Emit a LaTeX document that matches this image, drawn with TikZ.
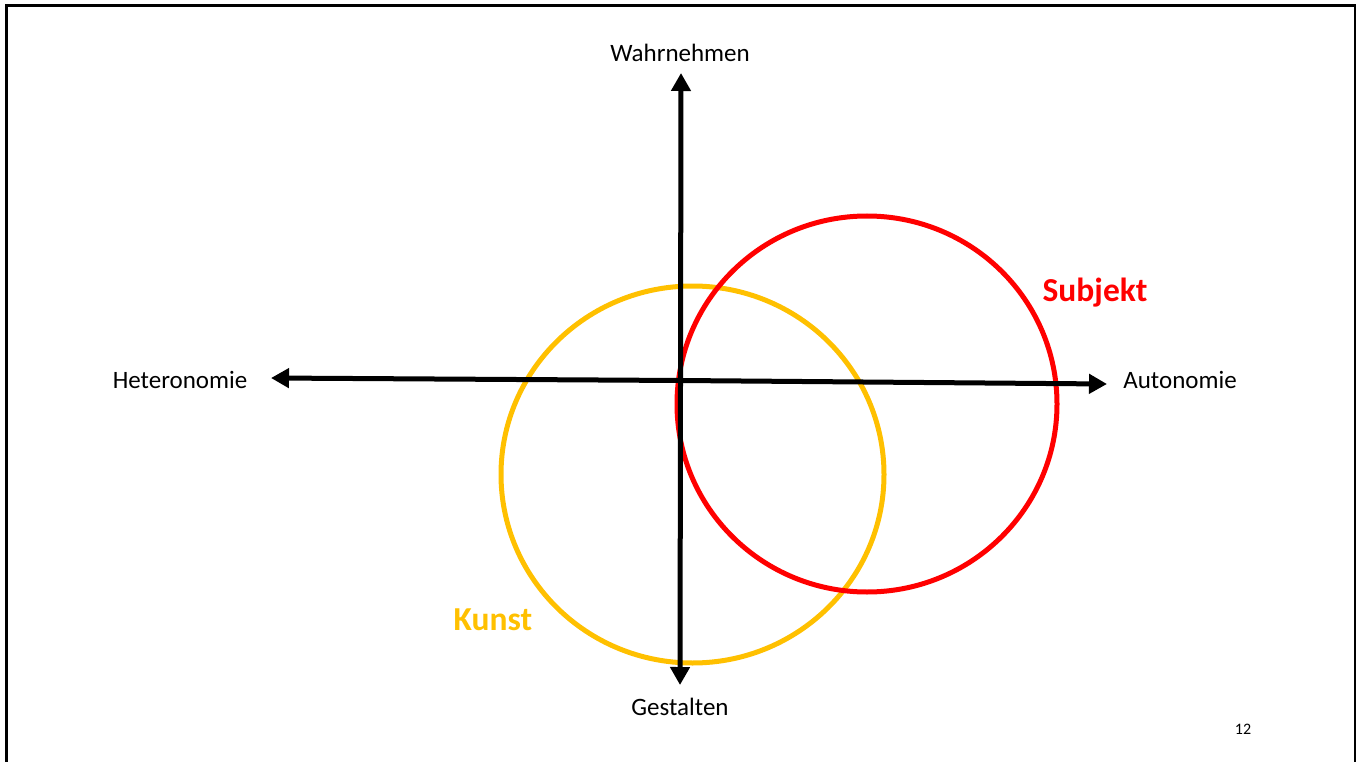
\documentclass[tikz,border=0pt]{standalone}
\usepackage{fontspec}
\setmainfont{Carlito}
\usetikzlibrary{arrows.meta}
\definecolor{kunstc}{HTML}{FFC000}
\definecolor{subjc}{HTML}{FF0000}
\tikzset{
  axis/.style={line width=5pt, -{Triangle[length=18pt,width=19pt]}},
  lbl/.style={font=\fontsize{25}{30}\selectfont, inner sep=0pt},
  big/.style={font=\fontsize{33.5}{40}\selectfont\bfseries, inner sep=0pt},
  ring/.style={line width=5pt}
}
\begin{document}
\begin{tikzpicture}[x=1pt,y=-1pt]
\useasboundingbox (0,0) rectangle (1362,762);
\draw[line width=2.5pt] (6.5,764) -- (6.5,5.5) -- (1355,5.5) -- (1355,764);
% circles
\draw[ring, kunstc] (692.5,474.5) ellipse (191.5 and 188.5);
\draw[ring, subjc] (867,404) ellipse (190 and 188);
% axes
\coordinate (vtop) at (681,73);
\coordinate (vbot) at (680,685);
\coordinate (hl) at (271,378);
\coordinate (hr) at (1107,384);
\coordinate (c) at (680.5,380.5);
\draw[axis] (c) -- (vtop);
\draw[axis] (c) -- (vbot);
\draw[axis] (c) -- (hl);
\draw[axis] (c) -- (hr);
% labels
\node[lbl] (wahr) at (680,53) {Wahrnehmen};
\node[lbl] (gest) at (680,707) {Gestalten};
\node[lbl] (het) at (180,380) {Heteronomie};
\node[lbl] (aut) at (1180,380) {Autonomie};
\node[big, subjc] (subj) at (1095,293) {Subjekt};
\node[big, kunstc] (kunst) at (493,620) {Kunst};
\node[inner sep=0pt, font=\fontsize{16}{19}\selectfont] (num) at (1243,729) {12};
\end{tikzpicture}
\end{document}
